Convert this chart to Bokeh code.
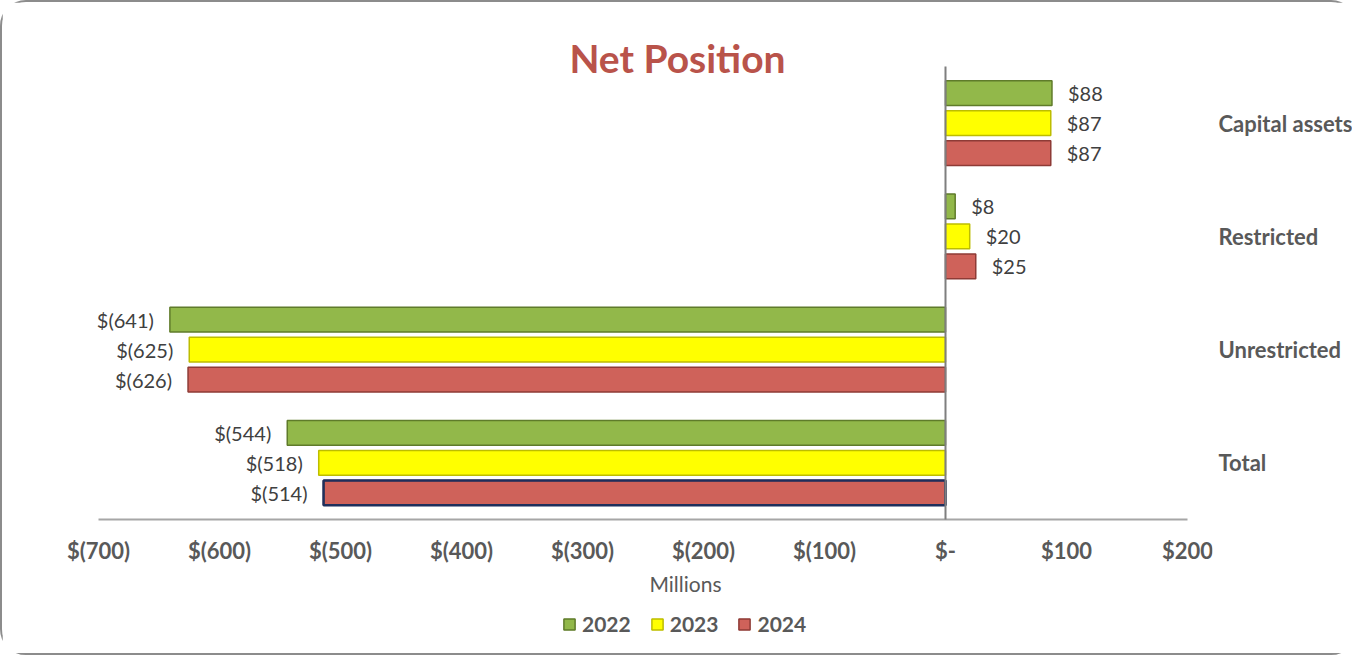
from bokeh.plotting import figure
from bokeh.models import (ColumnDataSource, Range1d, FixedTicker, LinearAxis,
                          Legend, LegendItem, Label)
from bokeh.core.properties import value
from bokeh.embed import file_html
from bokeh.resources import INLINE

# ---- data ----
categories = ["Capital assets", "Restricted", "Unrestricted", "Total"]
years = ["2022", "2023", "2024"]
v2022 = [88, 8, -641, -544]
v2023 = [87, 20, -625, -518]
v2024 = [87, 25, -626, -514]
x_ticks = [-700, -600, -500, -400, -300, -200, -100, 0, 100, 200]
x_tick_labels = ["$(700)", "$(600)", "$(500)", "$(400)", "$(300)", "$(200)",
                 "$(100)", "$-", "$100", "$200"]
title_text = "Net Position"
x_title = "Millions"

FONT = "Lato"
GRAY = "#595959"

# layout constants (pixels)
PX_PER_CAT = 113.25
PAD_TOP = 46
PAD_BOTTOM = 130
PX_PER_UNIT = 1.21
PAD_LEFT = 38
PAD_RIGHT = 25
n = len(categories)
FRAME_H = int(round(n * PX_PER_CAT + PAD_TOP + PAD_BOTTOM))
FRAME_W = int(round((x_ticks[-1] - x_ticks[0]) * PX_PER_UNIT + PAD_LEFT + PAD_RIGHT))


def money(v):
    return f"${v}" if v >= 0 else f"$({-v})"


# category centres: first category at the top
cat_pos = [n - 1 - i + 0.5 for i in range(n)]

p = figure(frame_width=FRAME_W, frame_height=FRAME_H,
           x_range=Range1d(x_ticks[0] - PAD_LEFT / PX_PER_UNIT,
                           x_ticks[-1] + PAD_RIGHT / PX_PER_UNIT),
           y_range=Range1d(-PAD_BOTTOM / PX_PER_CAT, n + PAD_TOP / PX_PER_CAT),
           y_axis_location="right",
           output_backend="svg", toolbar_location=None,
           min_border_left=58, min_border_right=140,
           min_border_top=18, min_border_bottom=4)
p.styles = {"border": "2px solid #8C8C8C", "border-radius": "26px"}
p.outline_line_color = None
p.xgrid.grid_line_color = None
p.ygrid.grid_line_color = None
p.background_fill_color = "white"
p.border_fill_color = "white"

xa = p.xaxis[0]
ya = p.yaxis[0]

series = [
    ("2022", v2022, 0.265, "#92B84A", "#5F7B2A"),
    ("2023", v2023, 0.0, "#FFFF00", "#BDBD00"),
    ("2024", v2024, -0.265, "#CF625A", "#8E3B36"),
]

renderers = []
for name, vals, off, fill, line in series:
    src = ColumnDataSource(dict(
        y=[c + off for c in cat_pos],
        val=vals,
        txt=[money(v) for v in vals],
        xoff=[16 if v >= 0 else -16 for v in vals],
        align=["left" if v >= 0 else "right" for v in vals],
    ))
    r = p.hbar(y="y", right="val", left=0, height=0.22,
               source=src, fill_color=fill, line_color=line, line_width=1.5)
    renderers.append((name, r))
    p.text(x="val", y="y", text="txt", source=src,
           x_offset="xoff", text_align="align", text_baseline="middle",
           text_font=value(FONT), text_font_size="20px", text_color="#404040")

# selected outline on Total 2024 bar
sel = ColumnDataSource(dict(y=[cat_pos[3] - 0.265], val=[v2024[3]]))
p.hbar(y="y", right="val", left=0, height=0.22,
       source=sel, fill_color=None, line_color="#1F2F5C", line_width=2.5)

# x axis at the bottom of the categories
xa.fixed_location = 0
xa.bounds = (x_ticks[0], x_ticks[-1])
xa.ticker = FixedTicker(ticks=x_ticks)
xa.major_label_overrides = {t: l for t, l in zip(x_ticks, x_tick_labels)}
xa.major_tick_line_color = None
xa.minor_tick_line_color = None
xa.axis_line_color = "#A6A6A6"
xa.axis_line_width = 2
xa.major_label_text_font = FONT
xa.major_label_text_font_style = "bold"
xa.major_label_text_font_size = "22px"
xa.major_label_text_color = GRAY
xa.major_label_standoff = 11

# category labels on the right
ya.ticker = FixedTicker(ticks=cat_pos)
ya.major_label_overrides = {c: l for c, l in zip(cat_pos, categories)}
ya.axis_line_color = None
ya.major_tick_line_color = None
ya.minor_tick_line_color = None
ya.major_label_text_font = FONT
ya.major_label_text_font_style = "bold"
ya.major_label_text_font_size = "22px"
ya.major_label_text_color = GRAY
ya.major_label_standoff = 0

# vertical zero line (category axis at x = 0)
zero_axis = LinearAxis(fixed_location=0, bounds=(0, n), ticker=FixedTicker(ticks=[]),
                       axis_line_color="#7F7F7F", axis_line_width=2,
                       major_tick_line_color=None, minor_tick_line_color=None,
                       major_label_text_color=None)
p.add_layout(zero_axis, "left")

# titles
p.add_layout(Label(x=617, y=592, x_units="screen", y_units="screen", text=title_text,
                   text_align="center", text_baseline="middle", text_font=FONT,
                   text_font_style="bold", text_font_size="39px", text_color="#B9534A"))
p.add_layout(Label(x=625, y=66, x_units="screen", y_units="screen", text=x_title,
                   text_align="center", text_baseline="middle", text_font=FONT,
                   text_font_size="21px", text_color=GRAY))

legend = Legend(items=[LegendItem(label=nm, renderers=[r]) for nm, r in renderers],
                location=(502, 13), orientation="horizontal",
                glyph_width=14, glyph_height=14, label_standoff=6, spacing=19,
                padding=0, margin=0, border_line_color=None,
                background_fill_alpha=0,
                label_text_font=FONT, label_text_font_style="bold",
                label_text_font_size="21px", label_text_color=GRAY)
p.add_layout(legend, "center")

open("out.html", "w").write(file_html(p, INLINE))
